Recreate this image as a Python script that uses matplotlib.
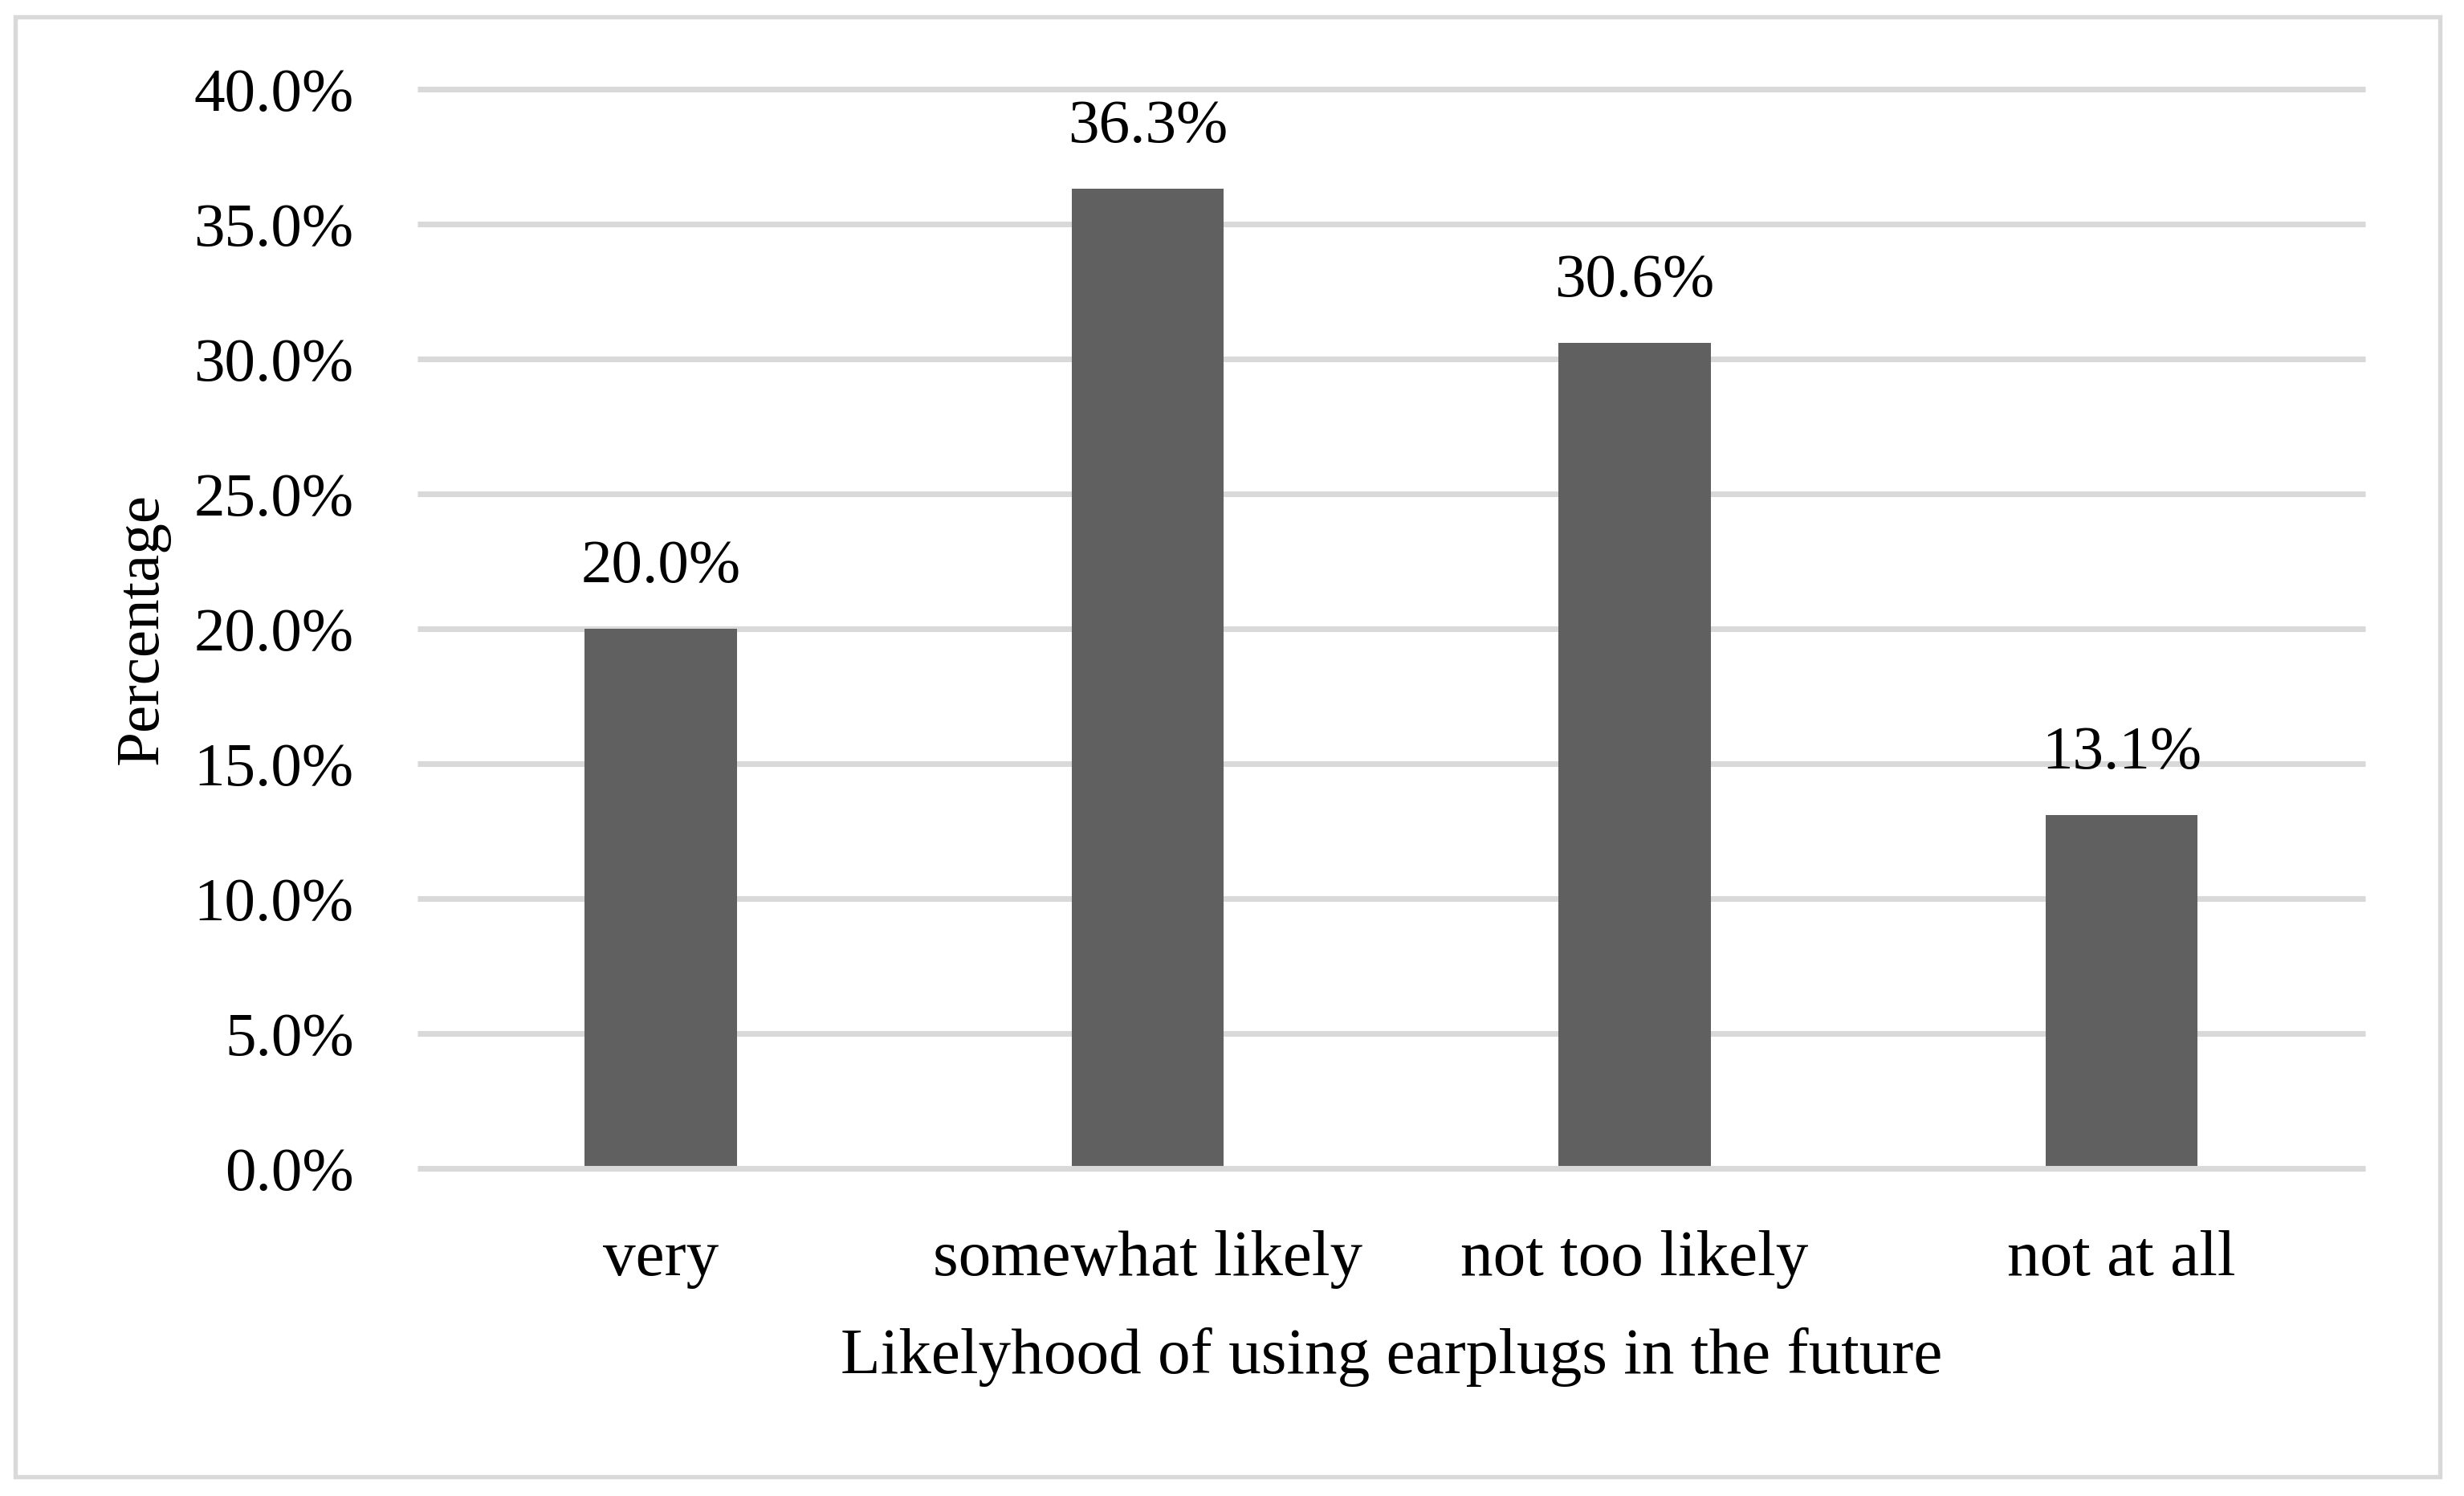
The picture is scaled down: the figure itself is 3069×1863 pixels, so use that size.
import numpy as np
import matplotlib.pyplot as plt
from matplotlib.patches import Rectangle

categories = ['very', 'somewhat likely', 'not too likely', 'not at all']
values = [20.0, 36.3, 30.6, 13.1]
yticks = [0.0, 5.0, 10.0, 15.0, 20.0, 25.0, 30.0, 35.0, 40.0]

plt.rcParams['font.family'] = ['Liberation Serif', 'DejaVu Serif']
fsize = 18.5
wide_size = 19.5
grid_col = '#d9d9d9'
bar_col = '#606060'

fig = plt.figure(figsize=(10.23, 6.21), dpi=300)
ax = fig.add_axes([0.1694, 0.2190, 0.7905, 0.7214])

x = np.arange(len(categories))
bars = ax.bar(x, values, width=0.3125, color=bar_col, zorder=2)

ax.set_xlim(-0.5, len(categories) - 0.5)
ax.set_ylim(0, 40)

# gridlines (0 line drawn above the bars like the category axis)
ax.hlines(yticks[1:], 0, 1, transform=ax.get_yaxis_transform(),
          colors=grid_col, linewidth=1.7, clip_on=False, zorder=1)
ax.hlines([yticks[0]], 0, 1, transform=ax.get_yaxis_transform(),
          colors=grid_col, linewidth=1.7, clip_on=False, zorder=3)

for s in ax.spines.values():
    s.set_visible(False)

ax.set_yticks(yticks)
ax.set_yticklabels(['%.1f%%' % v for v in yticks], fontsize=fsize)
ax.set_xticks(x)
ax.set_xticklabels(categories, fontsize=wide_size)
ax.tick_params(axis='y', length=0, pad=19)
ax.tick_params(axis='x', length=0, pad=18.5)

for xi, v in zip(x, values):
    ax.annotate('%.1f%%' % v, (xi, v), xytext=(0, 14), textcoords='offset points',
                ha='center', va='baseline', fontsize=fsize)

ax.set_xlabel('Likelyhood of using earplugs in the future', fontsize=wide_size)
ax.xaxis.set_label_coords(0.5, -0.147)
ax.set_ylabel('Percentage', fontsize=fsize)
ax.yaxis.set_label_coords(-0.127, 0.5)

# outer chart border
fig.patches.append(Rectangle((0.0062, 0.0129), 0.984, 0.9758, transform=fig.transFigure,
                             fill=False, edgecolor=grid_col, linewidth=1.3))

plt.savefig('out.png', dpi=300)
